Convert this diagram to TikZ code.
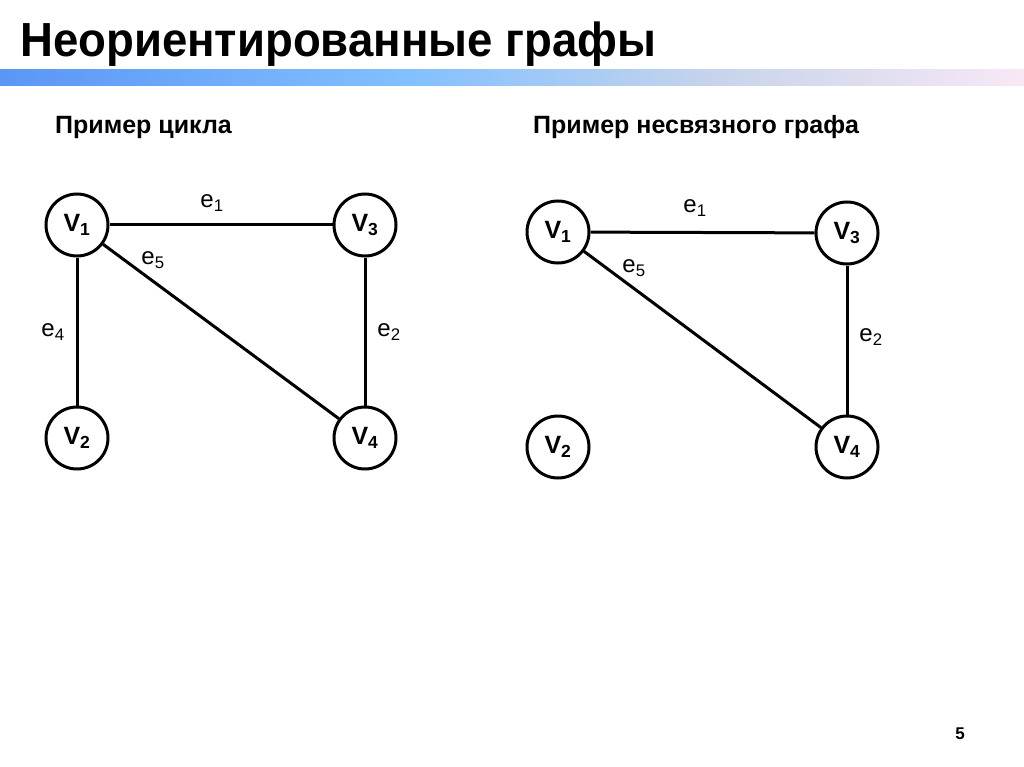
\documentclass[tikz,border=0pt]{standalone}
\usepackage{fontspec}
\setmainfont{Liberation Sans}
\begin{document}
\begin{tikzpicture}[x=1pt,y=-1pt,
  vert/.style={circle,draw,line width=3pt,minimum size=62pt,inner sep=0pt,font=\bfseries\fontsize{25}{25}\selectfont},
  edge/.style={line width=3pt},
  elab/.style={font=\fontsize{24}{24}\selectfont,inner sep=0pt},
  sub/.style={font=\bfseries\fontsize{25}{28}\selectfont,anchor=base west,inner sep=0pt}]
\useasboundingbox (0,0) rectangle (1024,767);
\fill[white] (0,0) rectangle (1024,767);
% gradient bar
\shade[left color={rgb,255:red,90;green,150;blue,245}, right color={rgb,255:red,130;green,192;blue,255}] (0,70) rectangle (410,86);
\shade[left color={rgb,255:red,130;green,192;blue,255}, right color={rgb,255:red,200;green,212;blue,235}] (409.5,70) rectangle (720,86);
\shade[left color={rgb,255:red,200;green,212;blue,235}, right color={rgb,255:red,248;green,232;blue,246}] (719.5,70) rectangle (1024,86);
\node[anchor=base west,inner sep=0pt,xscale=0.99,yscale=1.04,font=\bfseries\fontsize{46}{46}\selectfont] (title) at (20,57) {Неориентированные графы};
\node[sub] (s1) at (55,134) {Пример цикла};
\node[sub] (s2) at (533,134) {Пример несвязного графа};
% left graph
\node[vert] (a1) at (77,225) {V\textsubscript{1}};
\node[vert] (a3) at (365,225) {V\textsubscript{3}};
\node[vert] (a2) at (77,438) {V\textsubscript{2}};
\node[vert] (a4) at (365,438) {V\textsubscript{4}};
\draw[edge] (a1) -- (a3);
\draw[edge] (a3) -- (a4);
\draw[edge] (a1) -- (a2);
\draw[edge] (a1) -- (a4);
\node[elab] (le1) at (212,203) {e\textsubscript{1}};
\node[elab] (le5) at (153,260) {e\textsubscript{5}};
\node[elab] (le4) at (53,332) {e\textsubscript{4}};
\node[elab] (le2) at (389,332) {e\textsubscript{2}};
% right graph
\node[vert] (b1) at (558,232) {V\textsubscript{1}};
\node[vert] (b3) at (847,233) {V\textsubscript{3}};
\node[vert] (b2) at (558,447) {V\textsubscript{2}};
\node[vert] (b4) at (847,447) {V\textsubscript{4}};
\draw[edge] (b1) -- (b3);
\draw[edge] (b3) -- (b4);
\draw[edge] (b1) -- (b4);
\node[elab] (re1) at (695,208) {e\textsubscript{1}};
\node[elab] (re5) at (634,268) {e\textsubscript{5}};
\node[elab] (re2) at (871,337) {e\textsubscript{2}};
\node[font=\bfseries\fontsize{17}{17}\selectfont,inner sep=0pt] (pg) at (960,734) {5};
\end{tikzpicture}
\end{document}
